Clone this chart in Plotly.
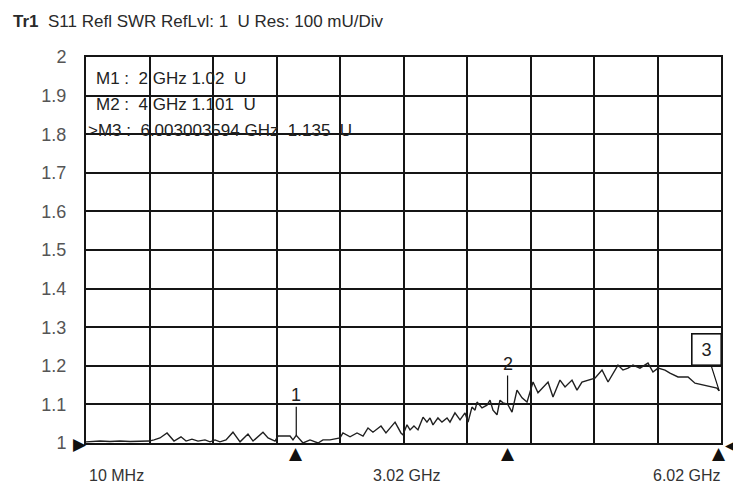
import plotly.graph_objects as go

# ---- data ----
freq_ghz = [0.010, 0.057, 0.143, 0.237, 0.332, 0.427, 0.521, 0.606, 0.654, 0.710,
            0.777, 0.843, 0.909, 0.957, 1.013, 1.070, 1.136, 1.184, 1.231, 1.278,
            1.335, 1.401, 1.468, 1.543, 1.591, 1.685, 1.733, 1.799, 1.827, 1.941,
            1.969, 2.000, 2.064, 2.130, 2.206, 2.253, 2.319, 2.414, 2.442, 2.509,
            2.575, 2.632, 2.679, 2.726, 2.802, 2.849, 2.935, 2.991, 3.010, 3.048,
            3.077, 3.114, 3.152, 3.200, 3.237, 3.266, 3.294, 3.341, 3.379, 3.427,
            3.455, 3.502, 3.550, 3.597, 3.626, 3.663, 3.692, 3.711, 3.758, 3.805,
            3.834, 3.862, 3.900, 3.928, 3.957, 4.000, 4.042, 4.089, 4.137, 4.184,
            4.241, 4.288, 4.383, 4.430, 4.496, 4.544, 4.610, 4.657, 4.704, 4.761,
            4.827, 4.894, 4.951, 5.045, 5.092, 5.140, 5.187, 5.253, 5.329, 5.376,
            5.424, 5.490, 5.537, 5.613, 5.708, 5.774, 5.850, 5.916, 5.982, 6.003]
swr = [1.003, 1.004, 1.005, 1.004, 1.005, 1.004, 1.005, 1.005, 1.008, 1.013,
       1.026, 1.005, 1.016, 1.005, 1.010, 1.005, 1.008, 1.003, 1.008, 1.003,
       1.008, 1.028, 1.003, 1.023, 1.005, 1.028, 1.013, 1.005, 1.018, 1.018,
       1.008, 1.020, 1.000, 1.008, 1.000, 1.008, 1.008, 1.013, 1.026, 1.016,
       1.026, 1.018, 1.039, 1.028, 1.044, 1.026, 1.054, 1.026, 1.021, 1.047,
       1.034, 1.044, 1.034, 1.067, 1.054, 1.065, 1.047, 1.065, 1.054, 1.065,
       1.054, 1.078, 1.060, 1.078, 1.054, 1.093, 1.085, 1.106, 1.091, 1.098,
       1.111, 1.085, 1.073, 1.111, 1.104, 1.101, 1.080, 1.137, 1.117, 1.106,
       1.158, 1.130, 1.158, 1.119, 1.163, 1.145, 1.163, 1.137, 1.158, 1.163,
       1.168, 1.189, 1.158, 1.202, 1.189, 1.194, 1.202, 1.194, 1.207, 1.184,
       1.194, 1.189, 1.181, 1.171, 1.171, 1.155, 1.150, 1.145, 1.142, 1.135]

marker_names = ["1", "2", "3"]
marker_freq = [2.0, 4.0, 6.003003594]
marker_swr = [1.02, 1.101, 1.135]
marker_lines = ["M1 :  2 GHz 1.02  U", "M2 :  4 GHz 1.101  U", ">M3 :  6.003003594 GHz  1.135  U"]

y_ticks = [1.0, 1.1, 1.2, 1.3, 1.4, 1.5, 1.6, 1.7, 1.8, 1.9, 2.0]
y_ticktext = ["1", "1.1", "1.2", "1.3", "1.4", "1.5", "1.6", "1.7", "1.8", "1.9", "2"]
x_start, x_stop = 0.01, 6.02
x_labels = ["10 MHz", "3.02 GHz", "6.02 GHz"]
title_text = "<b>Tr1</b>  S11 Refl SWR RefLvl: 1  U Res: 100 mU/Div"

FONT = "Liberation Sans, Arial, sans-serif"
INK = "#151515"

# the page body has an 8px margin; the figure is sized/offset to compensate
W, H = 733, 476

fig = go.Figure()
fig.add_trace(go.Scatter(x=freq_ghz, y=swr, mode="lines",
                         line=dict(color="#202020", width=1.4),
                         hoverinfo="skip", showlegend=False))

ann = []
# bottom frequency labels
x_mid = (x_start + x_stop) / 2
for xv, txt, anc, xs in zip([x_start, x_mid, x_stop], x_labels,
                            ["left", "center", "right"], [1, 3, 2]):
    ann.append(dict(x=xv, y=0, xref="x", yref="paper", text=txt, showarrow=False,
                    xanchor=anc, yanchor="middle", yshift=-32, xshift=xs,
                    font=dict(family=FONT, size=16, color="#333")))
# marker info lines
for i, t in enumerate(marker_lines):
    ann.append(dict(x=0, y=1, xref="paper", yref="paper", text=t, showarrow=False,
                    xanchor="left", yanchor="middle", xshift=8 if i < 2 else 0,
                    yshift=-21 - 26 * i,
                    font=dict(family=FONT, size=17, color="#222")))
# marker triangles under the axis
for xv in marker_freq:
    ann.append(dict(x=xv, y=1.0, xref="x", yref="y", text="▲", showarrow=False,
                    xanchor="center", yanchor="middle", yshift=-10,
                    font=dict(family="DejaVu Sans", size=17, color="#111")))
# reference level triangles
ann.append(dict(x=x_start, y=1.0, xref="x", yref="y", text="▶", showarrow=False,
                xanchor="center", yanchor="middle", xshift=-6, yshift=-1,
                font=dict(family="DejaVu Sans", size=17, color="#111")))
ann.append(dict(x=x_stop, y=1.0, xref="x", yref="y", text="◀", showarrow=False,
                xanchor="center", yanchor="middle", xshift=11, yshift=-2,
                font=dict(family="DejaVu Sans", size=17, color="#111")))
# marker labels
for name, xv, yv, ay in zip(marker_names[:2], marker_freq[:2], marker_swr[:2], [-40, -40]):
    ann.append(dict(x=xv, y=yv, xref="x", yref="y", text=name, showarrow=True,
                    arrowhead=0, arrowwidth=1.2, arrowcolor="#111", ax=0, ay=ay,
                    standoff=0, font=dict(family=FONT, size=18, color="#222")))
ann.append(dict(x=marker_freq[2], y=marker_swr[2], xref="x", yref="y", text="3",
                showarrow=True, arrowhead=0, arrowwidth=1.2, arrowcolor="#111",
                ax=-13, ay=-41, bordercolor="#111", borderwidth=1.6, borderpad=2,
                bgcolor="white", width=24, height=26,
                font=dict(family=FONT, size=18, color="#222")))

fig.update_layout(
    width=W, height=H,
    margin=dict(l=78, r=20, t=49, b=41),
    paper_bgcolor="white", plot_bgcolor="white",
    title=dict(text=title_text, x=5 / W, xref="container", xanchor="left",
               y=1 - 13 / H, yref="container", yanchor="middle",
               font=dict(family=FONT, size=17, color="#2a2a2a")),
    xaxis=dict(range=[x_start, x_stop], tick0=x_start, dtick=(x_stop - x_start) / 10,
               showticklabels=False, ticks="", showgrid=True, gridcolor=INK, gridwidth=1.7,
               zeroline=False, showline=True, linecolor=INK, linewidth=2, mirror=True),
    yaxis=dict(range=[1.0, 2.0], tickvals=y_ticks, ticktext=y_ticktext,
               ticks="", ticklabelstandoff=14, showgrid=True, gridcolor=INK, gridwidth=1.7,
               zeroline=False, showline=True, linecolor=INK, linewidth=2, mirror=True,
               tickfont=dict(family=FONT, size=18, color="#555")),
    annotations=ann,
    showlegend=False,
)

fig.write_html("out.html")
